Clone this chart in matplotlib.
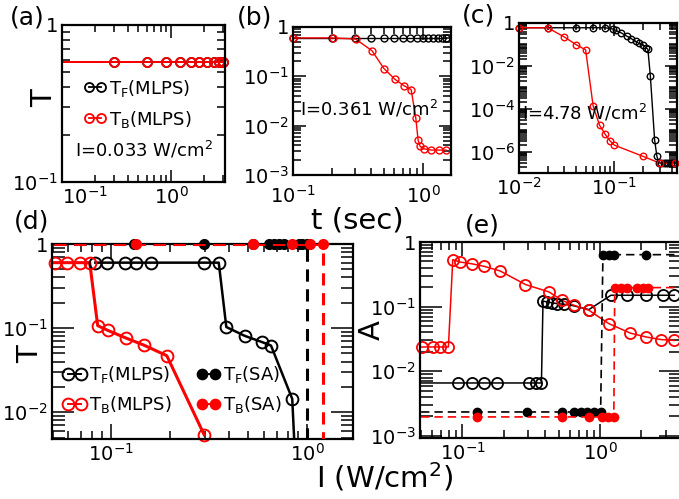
import numpy as np
import matplotlib.pyplot as plt
from matplotlib.ticker import FixedLocator, LogLocator, FuncFormatter, NullFormatter
from matplotlib.lines import Line2D

# ---- (a) I = 0.033 W/cm^2 : T vs t
t_a = [0.1, 0.30, 0.60, 0.89, 1.2, 1.5, 1.8, 2.13, 2.45, 2.75, 3.0]
TF_a = [0.58, 0.58, 0.58, 0.58, 0.58, 0.58, 0.58, 0.58, 0.58, 0.58, 0.58]
TB_a = [0.58, 0.58, 0.58, 0.58, 0.58, 0.58, 0.58, 0.58, 0.58, 0.58, 0.58]

# ---- (b) I = 0.361 W/cm^2
t_bF = [0.1, 0.2, 0.3, 0.4, 0.5, 0.6, 0.7, 0.8, 0.9, 1.0, 1.1, 1.2, 1.3, 1.4, 1.5]
TF_b = [0.6, 0.6, 0.6, 0.6, 0.6, 0.6, 0.6, 0.6, 0.6, 0.6, 0.6, 0.6, 0.6, 0.6, 0.6]
t_bB = [0.1, 0.203, 0.303, 0.405, 0.50, 0.608, 0.71, 0.81, 0.88, 0.916, 0.95, 1.01, 1.16, 1.33, 1.5]
TB_b = [0.6, 0.6, 0.57, 0.33, 0.144, 0.087, 0.065, 0.054, 0.014, 0.0051, 0.0038,
        0.0034, 0.0032, 0.0032, 0.0032]

# ---- (c) I = 4.78 W/cm^2
t_cF = [0.01, 0.02, 0.04, 0.06, 0.08, 0.098, 0.104, 0.119, 0.136, 0.151, 0.168, 0.18,
        0.2, 0.217, 0.225, 0.239, 0.265, 0.28, 0.294, 0.31, 0.33, 0.35, 0.37, 0.39,
        0.41, 0.43]
TF_c = [0.6, 0.6, 0.6, 0.6, 0.6, 0.52, 0.45, 0.34, 0.24, 0.185, 0.138, 0.115,
        0.096, 0.067, 0.06, 3.4e-3, 3.4e-6, 6e-7, 3e-7, 3e-7, 3e-7, 3e-7, 3e-7, 3e-7,
        3e-7, 3e-7]
t_cB = [0.01, 0.02, 0.03, 0.04, 0.05, 0.06, 0.07, 0.08, 0.09, 0.1, 0.2, 0.3, 0.43]
TB_c = [0.6, 0.6, 0.22, 0.096, 0.056, 1.33e-4, 1.7e-5, 6.5e-6, 3.2e-6, 2e-6, 6e-7,
        2.9e-7, 2.9e-7]

# ---- (d) T vs intensity
I_dF = [0.0828, 0.095, 0.118, 0.133, 0.16, 0.299, 0.354, 0.387, 0.48, 0.591, 0.655, 0.841, 0.87]
T_dF = [0.6, 0.6, 0.6, 0.6, 0.6, 0.6, 0.6, 0.103, 0.081, 0.068, 0.062, 0.0144, 2.8e-3]
I_dB = [0.0512, 0.0593, 0.0689, 0.0775, 0.0851, 0.0958, 0.119, 0.146, 0.192, 0.298]
T_dB = [0.6, 0.6, 0.6, 0.6, 0.107, 0.094, 0.076, 0.063, 0.047, 0.0054]
I_dFsa = [0.04, 0.13, 0.299, 0.53, 0.637, 0.676, 0.716, 0.76, 0.906, 0.942, 1.0, 1.0]
T_dFsa = [1, 1, 1, 1, 1, 1, 1, 1, 1, 1, 1, 1e-6]
I_dBsa = [0.04, 0.133, 0.533, 0.838, 1.04, 1.21, 1.21]
T_dBsa = [1, 1, 1, 1, 1, 1, 1e-6]

# ---- (e) A vs intensity
I_eF = [0.04, 0.0935, 0.117, 0.144, 0.178, 0.303, 0.34, 0.375, 0.385, 0.413, 0.45,
        0.489, 0.546, 0.646, 0.83, 1.2, 1.58, 2.16, 2.85, 3.47]
A_eF = [6.6e-3, 6.6e-3, 6.6e-3, 6.6e-3, 6.6e-3, 6.6e-3, 6.6e-3, 6.6e-3, 0.122, 0.118,
        0.115, 0.111, 0.109, 0.103, 0.09, 0.15, 0.15, 0.15, 0.15, 0.15]
I_eB = [0.0506, 0.0614, 0.0687, 0.079, 0.085, 0.096, 0.117, 0.144, 0.188, 0.287, 0.425,
        0.53, 0.646, 0.83, 1.16, 1.66, 2.16, 2.77, 3.47]
A_eB = [0.0238, 0.0238, 0.0238, 0.0238, 0.533, 0.49, 0.46, 0.42, 0.356, 0.22, 0.169,
        0.125, 0.105, 0.088, 0.0546, 0.039, 0.034, 0.031, 0.030]
I_eFsa = [0.04, 0.127, 0.295, 0.53, 0.646, 0.722, 0.809, 0.904, 1.01, 1.05, 1.16, 1.27, 2.16, 5.0]
A_eFsa = [2.35e-3, 2.35e-3, 2.35e-3, 2.35e-3, 2.35e-3, 2.35e-3, 2.35e-3, 2.35e-3, 2.35e-3,
          0.637, 0.637, 0.637, 0.637, 0.637]
I_eBsa = [0.04, 0.127, 0.53, 0.83, 1.04, 1.15, 1.26, 1.28, 1.42, 1.58, 1.87, 2.04, 2.22, 5.0]
A_eBsa = [1.97e-3, 1.97e-3, 1.97e-3, 1.97e-3, 1.97e-3, 1.97e-3, 1.97e-3,
          0.197, 0.197, 0.197, 0.197, 0.197, 0.197, 0.197]

RED = '#ff0000'
W, H = 679, 499
fig = plt.figure(figsize=(W / 100, H / 100), dpi=100)


def box(l, t, r, b):
    return fig.add_axes([l / W, 1 - b / H, (r - l) / W, (b - t) / H])


def fmt_x(v, p):
    return r'$10^{%d}$' % round(np.log10(v))


def fmt_y(v, p):
    if abs(v - 1) < 1e-9:
        return '1'
    return r'$10^{%d}$' % round(np.log10(v))


def style(ax, xlim, ylim, xmaj, ymaj, xlen=(9, 5), ylen=(9, 6), ysubs=np.arange(2, 10), xpad=3):
    ax.set_xscale('log')
    ax.set_yscale('log')
    ax.set_xlim(*xlim)
    ax.set_ylim(*ylim)
    ax.xaxis.set_major_locator(FixedLocator(xmaj))
    ax.yaxis.set_major_locator(FixedLocator(ymaj))
    ax.xaxis.set_minor_locator(LogLocator(base=10, subs=np.arange(2, 10), numticks=50))
    ax.yaxis.set_minor_locator(LogLocator(base=10, subs=ysubs, numticks=50))
    ax.xaxis.set_major_formatter(FuncFormatter(fmt_x))
    ax.yaxis.set_major_formatter(FuncFormatter(fmt_y))
    ax.xaxis.set_minor_formatter(NullFormatter())
    ax.yaxis.set_minor_formatter(NullFormatter())
    ax.tick_params(which='both', direction='in', top=True, right=True, width=1.1,
                   labelsize=14, pad=3)
    ax.tick_params(axis='x', which='major', length=xlen[0], pad=xpad)
    ax.tick_params(axis='x', which='minor', length=xlen[1])
    ax.tick_params(axis='y', which='major', length=ylen[0])
    ax.tick_params(axis='y', which='minor', length=ylen[1])
    for s in ax.spines.values():
        s.set_linewidth(1.6)


def series(ax, x, y, c, lw=1.0, ms=5, mew=1.0, filled=False, dashes=None, nomark=(), z=2):
    x = np.asarray(x, float)
    y = np.asarray(y, float)
    kw = {'dashes': dashes} if dashes else {}
    ax.plot(x, y, ls='--' if dashes else '-', color=c, lw=lw, zorder=z, **kw)
    x0, x1 = ax.get_xlim()
    y0, y1 = ax.get_ylim()
    m = (x >= x0 / 1.01) & (x <= x1 * 1.01) & (y >= y0 / 1.01) & (y <= y1 * 1.01)
    for i in nomark:
        m[i] = False
    ax.plot(x[m], y[m], ls='none', marker='o', ms=ms, mew=mew, mec=c,
            mfc=c if filled else 'none', clip_on=False, zorder=z + 0.5)


def handle(c, filled, ms, lw):
    return Line2D([], [], color=c, lw=lw, marker='o', ms=ms, mew=lw, mec=c,
                  mfc=c if filled else 'none')


TF = r'T$_\mathrm{F}$'
TB = r'T$_\mathrm{B}$'

# ---------------- (a)
ax = box(62, 25, 225, 182)
style(ax, (0.1, 3.1), (0.1, 1), [0.1, 1], [0.1, 1])
series(ax, t_a, TF_a, 'k', lw=1.4, ms=6.5, mew=1.3, nomark=[0])
series(ax, t_a, TB_a, RED, lw=1.4, ms=6.5, mew=1.3, nomark=[0])
ax.legend([handle('k', False, 6.5, 1.3), handle(RED, False, 6.5, 1.3)],
          [TF + '(MLPS)', TB + '(MLPS)'], loc='upper left', bbox_to_anchor=(0.13, 0.665),
          frameon=False, fontsize=13, numpoints=2, handlelength=1.3, handletextpad=0.15,
          borderaxespad=0, borderpad=0, labelspacing=0.55)
ax.xaxis.get_major_ticks()[0].label1.set_horizontalalignment('left')

# ---------------- (b)
ax = box(293, 27, 451, 175)
style(ax, (0.1, 1.64), (1e-3, 1), [0.1, 1], [1e-3, 1e-2, 1e-1, 1], xpad=7)
series(ax, t_bF, TF_b, 'k', lw=1.0, ms=5, mew=1.0)
series(ax, t_bB, TB_b, RED, lw=1.0, ms=5, mew=1.0)

# ---------------- (c)
ax = box(519, 23, 677, 173)
style(ax, (0.01, 0.455), (1e-7, 1), [0.01, 0.1], [1e-6, 1e-4, 1e-2, 1],
      ysubs=np.arange(1, 10))
series(ax, t_cF, TF_c, 'k', lw=1.0, ms=4.7, mew=1.0)
series(ax, t_cB, TB_c, RED, lw=1.0, ms=4.7, mew=1.0)

# ---------------- (d)
ax = box(52, 244, 353, 439)
style(ax, (0.0497, 1.72), (4.8e-3, 1), [0.1, 1], [1e-2, 1e-1, 1], xlen=(11, 6), ylen=(16, 9))
series(ax, I_dF, T_dF, 'k', lw=1.8, ms=8.5, mew=1.4)
series(ax, I_dB, T_dB, RED, lw=2.2, ms=8.5, mew=1.4)
series(ax, I_dFsa, T_dFsa, 'k', lw=2.2, ms=7, mew=1.0, filled=True, dashes=(4, 2.5), z=4)
series(ax, I_dBsa, T_dBsa, RED, lw=2.2, ms=7, mew=1.0, filled=True, dashes=(4, 2.5), z=5)
ax.legend([handle('k', False, 8.5, 1.4), handle(RED, False, 8.5, 1.4),
           handle('k', True, 7, 1.4), handle(RED, True, 7, 1.4)],
          [TF + '(MLPS)', TB + '(MLPS)', TF + '(SA)', TB + '(SA)'], ncol=2,
          loc='upper left', bbox_to_anchor=(0.035, 0.385), frameon=False, fontsize=13,
          numpoints=2, handlelength=1.3, handletextpad=0.15, borderaxespad=0,
          borderpad=0, labelspacing=0.5, columnspacing=1.4)

# ---------------- (e)
ax = box(420, 242, 681, 438)
style(ax, (0.0491, 3.88), (9.3e-4, 1), [0.1, 1], [1e-3, 1e-2, 1e-1, 1], xlen=(10, 6), ylen=(16, 9))
series(ax, I_eF, A_eF, 'k', lw=1.1, ms=8, mew=1.3)
series(ax, I_eB, A_eB, RED, lw=1.1, ms=8, mew=1.3)
series(ax, I_eFsa, A_eFsa, 'k', lw=1.2, ms=6, mew=1.0, filled=True, dashes=(5, 3), z=4)
series(ax, I_eBsa, A_eBsa, RED, lw=1.2, ms=6, mew=1.0, filled=True, dashes=(5, 3), z=5)


# ---------------- texts
def ftext(x, y, s, **kw):
    fig.text(x / W, 1 - y / H, s, **kw)


ftext(27, 18, '(a)', fontsize=18, ha='center', va='center')
ftext(255, 18, '(b)', fontsize=18, ha='center', va='center')
ftext(478, 16, '(c)', fontsize=18, ha='center', va='center')
ftext(32, 222, '(d)', fontsize=18, ha='center', va='center')
ftext(482, 226, '(e)', fontsize=18, ha='center', va='center')

ftext(75, 150, r'I=0.033 W/cm$^2$', fontsize=13, ha='left', va='center')
ftext(300, 109, r'I=0.361 W/cm$^2$', fontsize=13, ha='left', va='center')
ftext(522, 113, r'I=4.78 W/cm$^2$', fontsize=13, ha='left', va='center')

ftext(44, 98, 'T', fontsize=21, rotation=90, ha='center', va='center')
ftext(357, 221, 't (sec)', fontsize=21, ha='center', va='center')
ftext(30, 354, 'T', fontsize=21, rotation=90, ha='center', va='center')
ftext(385, 477, r'I (W/cm$^2$)', fontsize=21, ha='center', va='center')
ftext(372, 330, 'A', fontsize=21, rotation=90, ha='center', va='center')

fig.savefig('out.png', dpi=100)
